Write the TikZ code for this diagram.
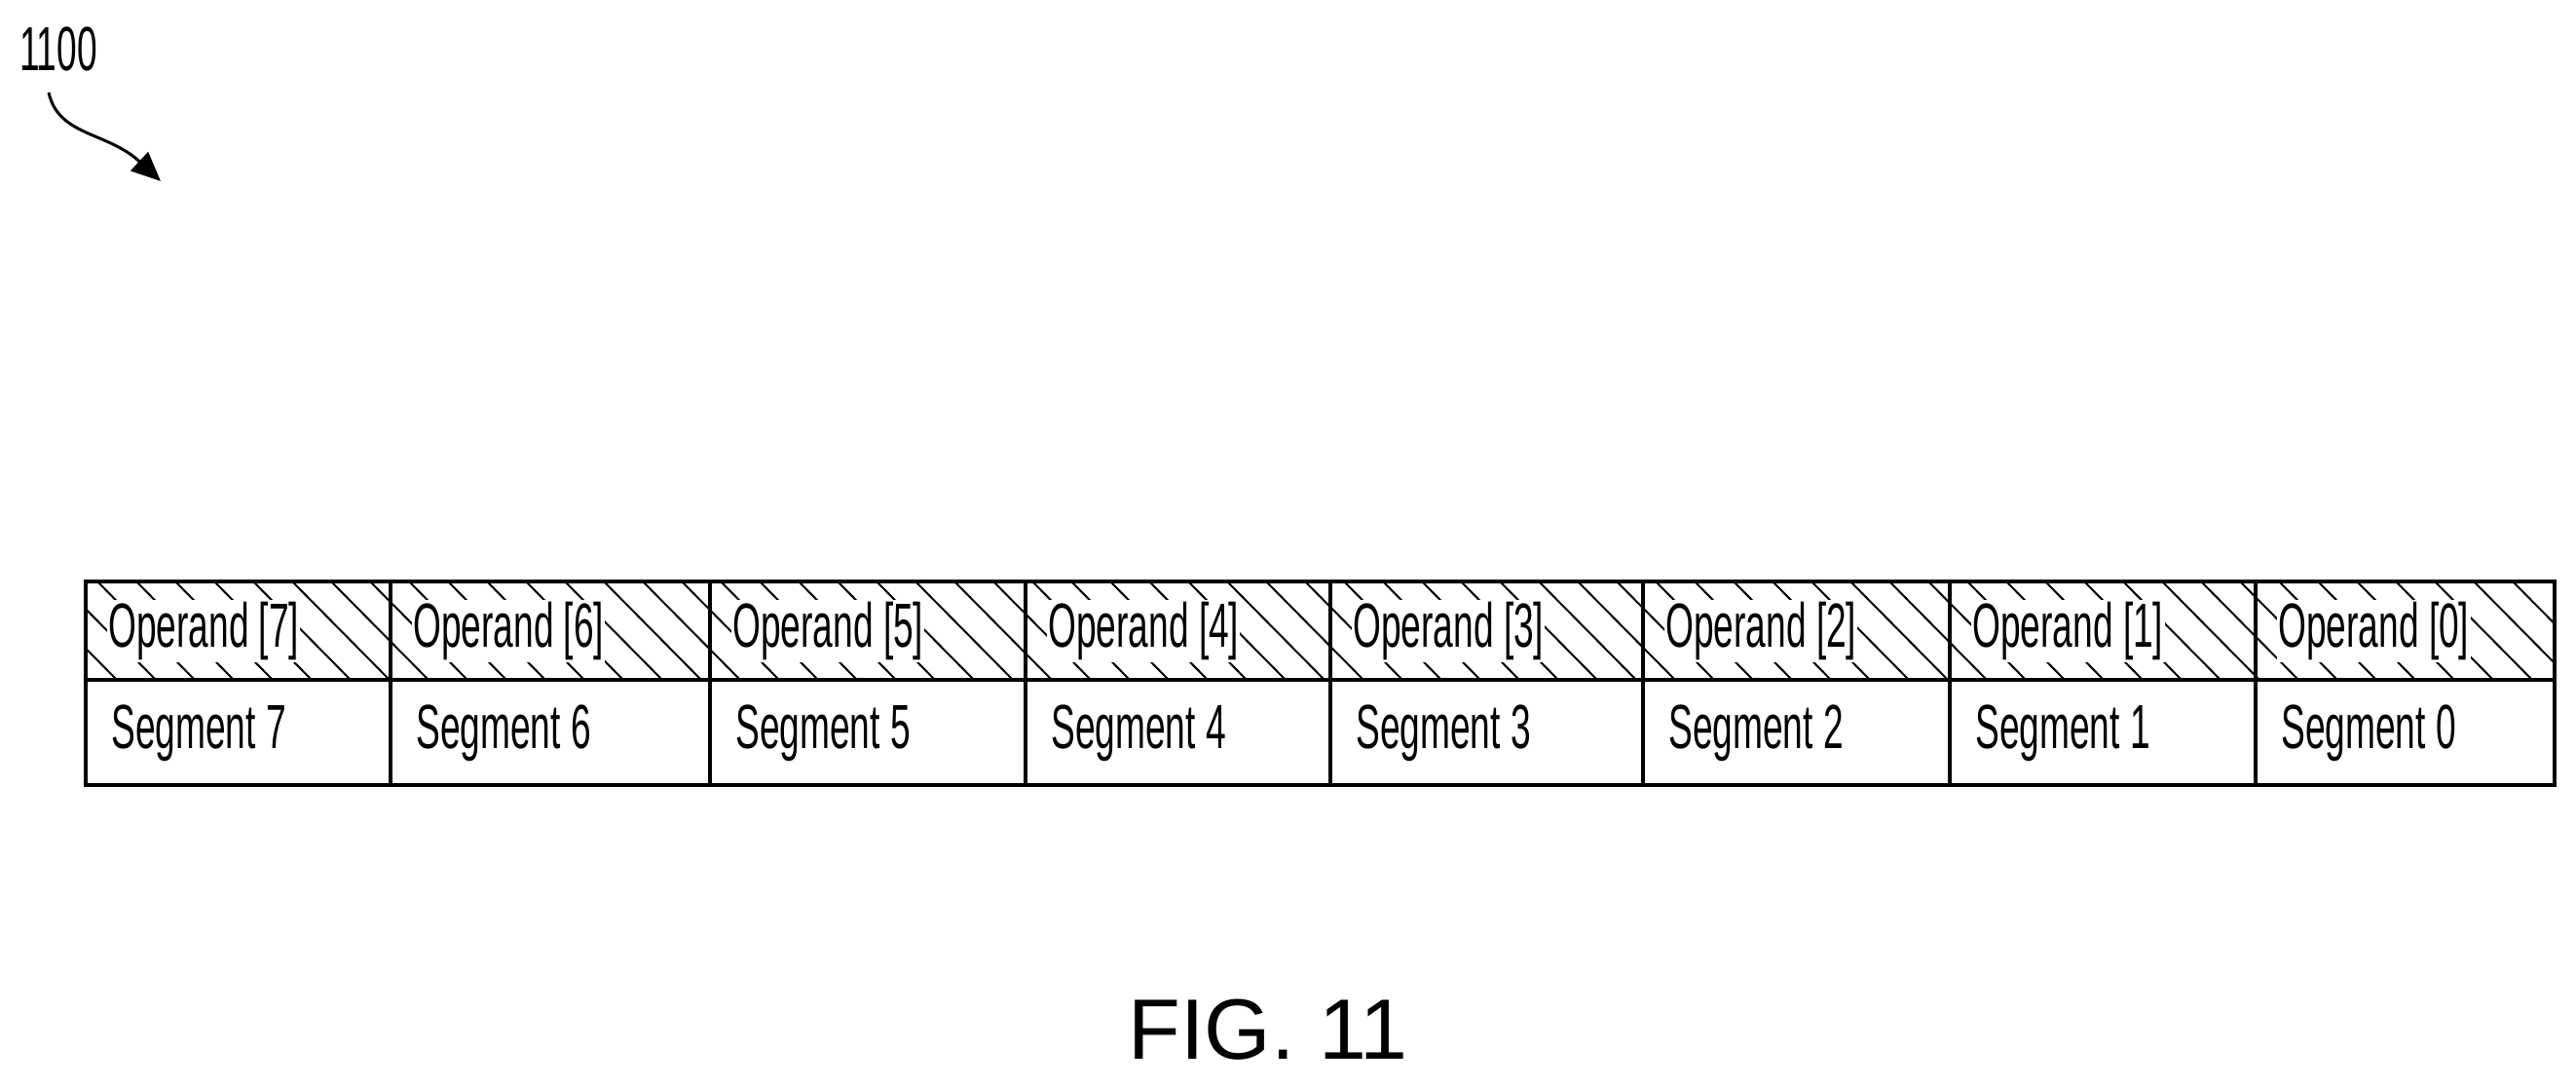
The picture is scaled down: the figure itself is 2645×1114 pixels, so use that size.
\documentclass[tikz,border=0pt]{standalone}
\usepackage{fontspec}
\setmainfont{Liberation Sans}
\usetikzlibrary{arrows.meta}
\begin{document}
\begin{tikzpicture}[x=1pt,y=-1pt,
  cond/.style={inner sep=2pt,anchor=west,font=\fontsize{64}{66}\selectfont,xscale=0.58,transform shape},
  op/.style={cond,fill=white},
  box/.style={line width=4.5pt}]
\useasboundingbox (0,0) rectangle (2645,1114);
\node[cond,anchor=center] (lab) at (60,50) {1100};
\coordinate (ah) at (165,186);
\draw[line width=3pt,-{Triangle[length=30pt,width=26pt]}] (50,95) .. controls (60,140) and (110,135) .. (ah);
\def\xs{{88,401,729,1053,1366,1687,2002,2316,2623}}
\begin{scope}
\clip (88,597) rectangle (2623,698);
\foreach \i in {0,...,70}{
  \draw[line width=2pt] ({40*\i-20},597) -- ({40*\i+80},698);
}
\end{scope}
\foreach \k/\n in {0/7,1/6,2/5,3/4,4/3,5/2,6/1,7/0}{
  \pgfmathsetmacro\xl{\xs[\k]}
  \pgfmathsetmacro\xr{\xs[\k+1]}
  \node[op] (o\n) at (\xl+22,648) {Operand [\n]};
  \node[cond] (s\n) at (\xl+25,753) {Segment \n};
  \draw[box] (\xl,597) rectangle (\xr,806);
  \draw[box] (\xl,698) -- (\xr,698);
}
\node[font=\fontsize{88}{90}\selectfont] (fig) at (1302,1057) {FIG. 11};
\end{tikzpicture}
\end{document}
